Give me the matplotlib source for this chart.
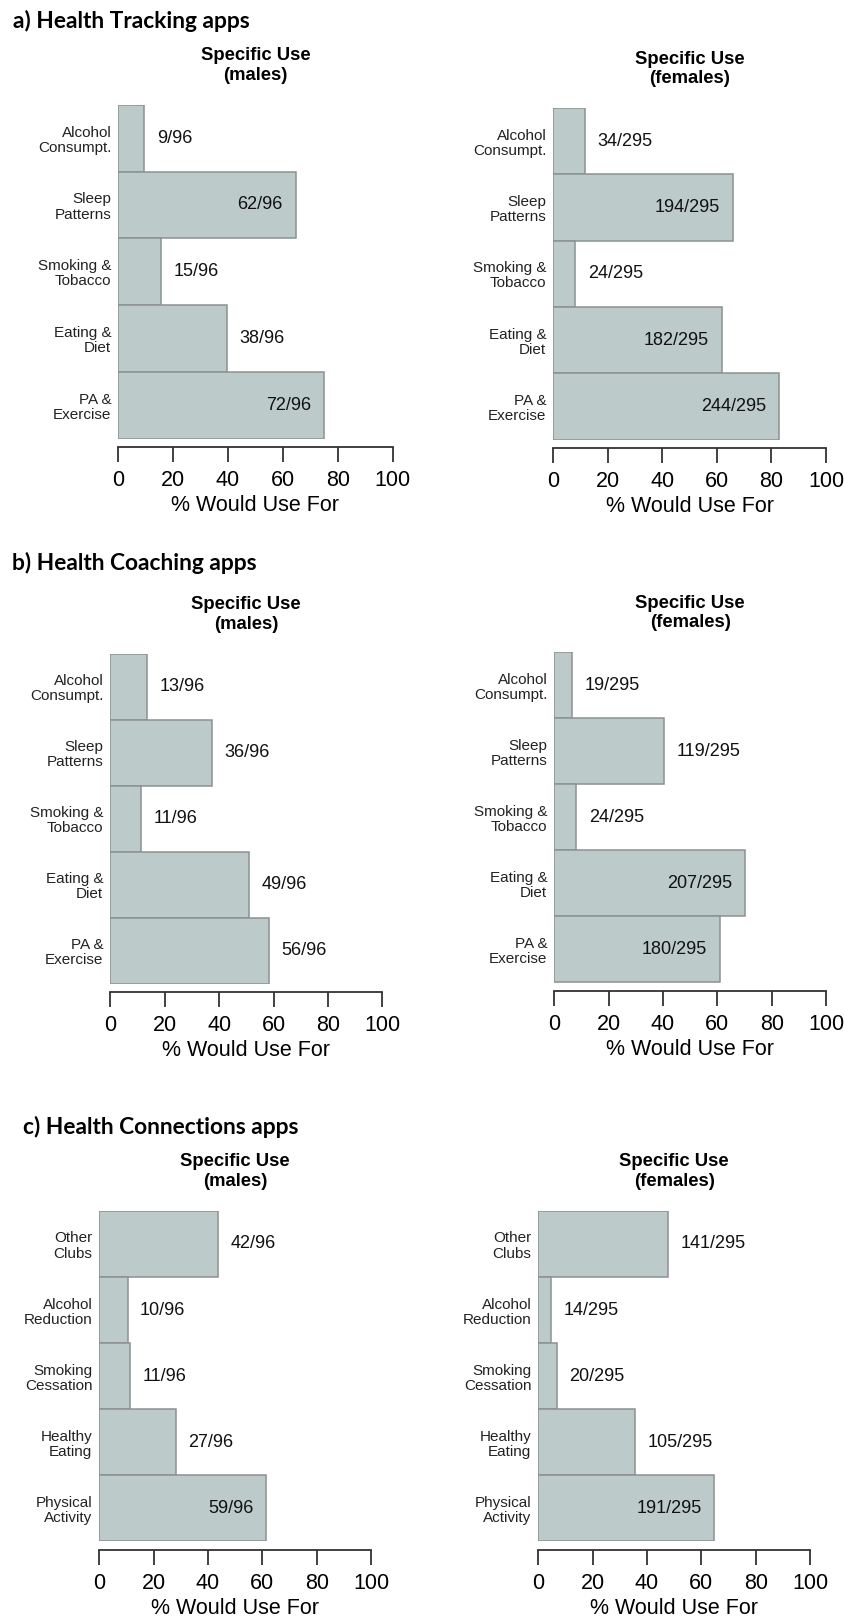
import matplotlib
matplotlib.use("Agg")
import matplotlib.pyplot as plt

# category labels (top to bottom)
track_cats = ["Alcohol\nConsumpt.", "Sleep\nPatterns", "Smoking &\nTobacco", "Eating &\nDiet", "PA &\nExercise"]
coach_cats = track_cats
connect_cats = ["Other\nClubs", "Alcohol\nReduction", "Smoking\nCessation", "Healthy\nEating", "Physical\nActivity"]

n_males = 96
n_females = 295

track_males = [9, 62, 15, 38, 72]
track_females = [34, 194, 24, 182, 244]
coach_males = [13, 36, 11, 49, 56]
coach_females = [19, 119, 24, 207, 180]
connect_males = [42, 10, 11, 27, 59]
connect_females = [141, 14, 20, 105, 191]

section_titles = ["a) Health Tracking apps", "b) Health Coaching apps", "c) Health Connections apps"]
ticks = [0, 20, 40, 60, 80, 100]

W, H = 845, 1620
BAR = "#bccaca"
EDGE = "#8c9191"
SANS = ["Liberation Sans", "DejaVu Sans"]

fig = plt.figure(figsize=(W / 100, H / 100), dpi=100)


def panel(x0, x100, top, bot, cats, counts, total, sex):
    ax = fig.add_axes([x0 / W, 1 - bot / H, (x100 - x0) / W, (bot - top) / H])
    # spine first, moving it resets tick label styling
    for s in ["top", "right", "left"]:
        ax.spines[s].set_visible(False)
    ax.spines["bottom"].set_position(("outward", 6))
    ax.spines["bottom"].set_linewidth(1.3)
    ax.spines["bottom"].set_color("#333333")

    pct = [c / total * 100 for c in counts]
    ypos = list(range(len(cats)))
    ax.barh(ypos, pct, height=1.0, color=BAR, edgecolor=EDGE, linewidth=1.1)
    ax.set_ylim(len(cats) - 0.5, -0.5)
    ax.set_xlim(0, 100)
    for y, p, c in zip(ypos, pct, counts):
        lab = f"{c}/{total}"
        if p > 60:
            ax.text(p - 4.7, y, lab, ha="right", va="center", fontsize=13, family=SANS, color="#111111")
        else:
            ax.text(p + 4.6, y, lab, ha="left", va="center", fontsize=13, family=SANS, color="#111111")
    ax.set_yticks(ypos)
    ax.set_yticklabels(cats, fontsize=11, family=SANS, linespacing=1.1, color="#222222")
    ax.tick_params(axis="y", length=0, pad=5)
    ax.set_xticks(ticks)
    ax.set_xticklabels([str(t) for t in ticks], fontsize=15.5, family=SANS)
    ax.tick_params(axis="x", length=11, width=1.3, direction="out", pad=5.5, color="#333333")
    ax.set_xlabel("% Would Use For", fontsize=15.5, family=SANS, labelpad=3)
    ax.set_title(f"Specific Use\n({sex})", fontsize=13.3, family=SANS, fontweight="bold",
                 linespacing=1.2, pad=18)
    return ax


panel(118.3, 392.7, 104.8, 438.5, track_cats, track_males, n_males, "males")
panel(553.3, 826.0, 108.2, 439.5, track_cats, track_females, n_females, "females")
panel(110.3, 382.3, 653.6, 983.8, coach_cats, coach_males, n_males, "males")
panel(554.3, 826.0, 652.2, 982.5, coach_cats, coach_females, n_females, "females")
panel(99.3, 371.0, 1210.9, 1541.4, connect_cats, connect_males, n_males, "males")
panel(538.3, 810.0, 1210.9, 1541.4, connect_cats, connect_females, n_females, "females")

title_pos = [(12.7, 21), (12, 563), (22.7, 1127)]
for t, (x, y) in zip(section_titles, title_pos):
    fig.text(x / W, 1 - y / H, t, ha="left", va="center", fontsize=16.4,
             fontweight="bold", family=["Lato", "DejaVu Sans"])

fig.savefig("out.png", dpi=100)
